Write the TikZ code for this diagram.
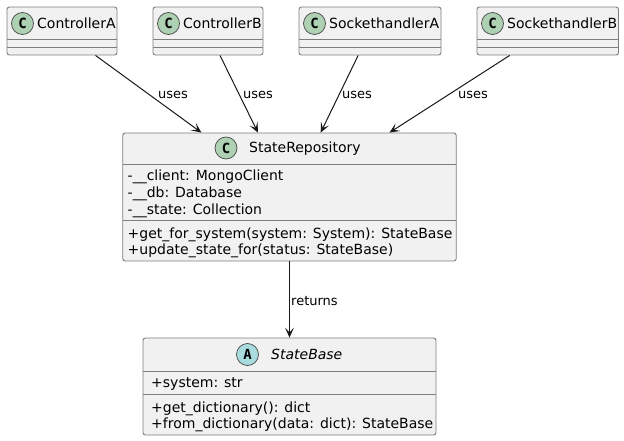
\documentclass[tikz,border=0pt]{standalone}
\usepackage{fontspec}
\setmainfont{DejaVu Sans}
\newfontfamily\spotfont{DejaVu Sans Mono}
\usetikzlibrary{arrows.meta}
\definecolor{boxfill}{HTML}{F1F1F1}
\definecolor{boxline}{HTML}{7E7E7E}
\definecolor{arrowline}{HTML}{181818}
\definecolor{clsspot}{HTML}{ADD1B2}
\definecolor{absspot}{HTML}{A9DCDF}
\begin{document}
\begin{tikzpicture}[x=1pt,y=-1pt,
  classbox/.style={draw=boxline, fill=boxfill, line width=0.9pt, rounded corners=2.5pt, inner sep=0pt},
  divider/.style={draw=boxline, line width=0.9pt},
  spot/.style={circle, draw=arrowline!80, line width=0.7pt, minimum size=22pt, inner sep=0pt, font=\spotfont\fontsize{14}{14}\selectfont\bfseries},
  title/.style={anchor=west, inner sep=0pt, text height=11pt, text depth=1pt, font=\fontsize{14}{16}\selectfont},
  member/.style={anchor=west, inner sep=0pt, text height=11pt, text depth=1pt, font=\fontsize{14}{16}\selectfont},
  conn/.style={draw=arrowline, line width=1pt, -{Stealth[length=10pt,width=9pt,inset=5pt]}},
  lbl/.style={anchor=west, inner sep=0pt, text height=10pt, text depth=1pt, font=\fontsize{13}{15}\selectfont}]
\useasboundingbox (0,0) rectangle (624,441);

% ControllerA
\node[classbox, minimum width=110pt, minimum height=48pt] (ca) at (62,31) {};
\draw[divider] (7,39) -- (117,39) (7,47) -- (117,47);
\node[spot, fill=clsspot] (caS) at (22.5,23.5) {C};
\node[title] (caT) at (37,23.5) {ControllerA};

% ControllerB
\node[classbox, minimum width=110pt, minimum height=48pt] (cb) at (208,31) {};
\draw[divider] (153,39) -- (263,39) (153,47) -- (263,47);
\node[spot, fill=clsspot] (cbS) at (168.5,23.5) {C};
\node[title] (cbT) at (183,23.5) {ControllerB};

% SockethandlerA
\node[classbox, minimum width=142pt, minimum height=48pt] (sa) at (370,31) {};
\draw[divider] (299,39) -- (441,39) (299,47) -- (441,47);
\node[spot, fill=clsspot] (saS) at (314.5,23.5) {C};
\node[title] (saT) at (329,23.5) {SockethandlerA};

% SockethandlerB
\node[classbox, minimum width=141.5pt, minimum height=48pt] (sbh) at (547.75,31) {};
\draw[divider] (477,39) -- (618.5,39) (477,47) -- (618.5,47);
\node[spot, fill=clsspot] (sbhS) at (492.5,23.5) {C};
\node[title] (sbhT) at (507,23.5) {SockethandlerB};

% StateRepository
\node[classbox, minimum width=333.5pt, minimum height=128pt] (sr) at (289.5,197) {};
\draw[divider] (122.75,164) -- (456.25,164) (122.75,220) -- (456.25,220);
\node[spot, fill=clsspot] (srS) at (226,148) {C};
\node[title] (srT) at (249,148) {StateRepository};
\node[member] (sr1) at (127.5,175) {-\_\_client: MongoClient};
\node[member] (sr2) at (127.5,192) {-\_\_db: Database};
\node[member] (sr3) at (127.5,209) {-\_\_state: Collection};
\node[member] (sr4) at (127.5,233) {+get\_for\_system(system: System): StateBase};
\node[member] (sr5) at (127.5,249.5) {+update\_state\_for(status: StateBase)};

% StateBase
\node[classbox, minimum width=293pt, minimum height=97pt] (sb) at (289.5,386.5) {};
\draw[divider] (143,371) -- (436,371) (143,394) -- (436,394);
\node[spot, fill=absspot] (sbS) at (247.5,354.5) {A};
\node[title, font=\fontsize{14}{16}\selectfont\itshape] (sbT) at (271,354.5) {StateBase};
\node[member] (sb1) at (151,382.5) {+system: str};
\node[member] (sb2) at (151,407) {+get\_dictionary(): dict};
\node[member] (sb3) at (151,423) {+from\_dictionary(data: dict): StateBase};

% connectors
\draw[conn] (ca) -- (sr);
\draw[conn] (cb) -- (sr);
\draw[conn] (sa) -- (sr);
\draw[conn] (sbh) -- (sr);
\draw[conn] (sr) -- (sb);

\node[lbl] (l1) at (158,94) {uses};
\node[lbl] (l2) at (243,94) {uses};
\node[lbl] (l3) at (342,94) {uses};
\node[lbl] (l4) at (458,94) {uses};
\node[lbl] (l5) at (291,301) {returns};
\end{tikzpicture}
\end{document}
